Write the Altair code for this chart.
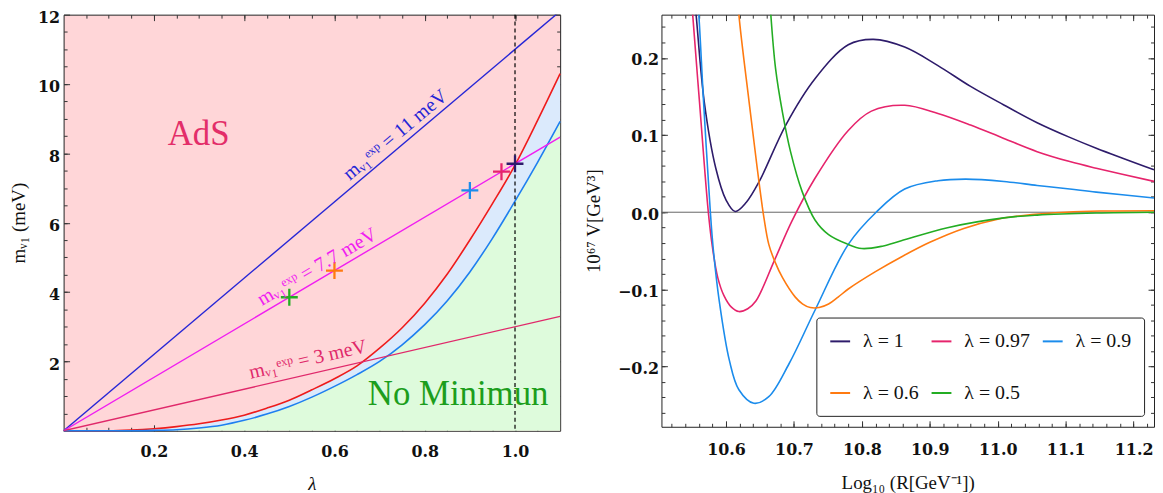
import altair as alt
import pandas as pd

# ---------------- left panel: m_nu1 (meV) versus lambda ----------------
lam = [0.0, 0.1, 0.15, 0.2, 0.25, 0.3, 0.35, 0.4, 0.45, 0.5, 0.55, 0.6, 0.65,
       0.7, 0.75, 0.8, 0.85, 0.9, 0.95, 1.0, 1.05, 1.1]
m_ads_edge = [0.0, 0.0, 0.02, 0.06, 0.12, 0.2, 0.31, 0.45, 0.65, 0.88, 1.18, 1.5,
              1.87, 2.38, 2.97, 3.68, 4.52, 5.5, 6.55, 7.66, 8.95, 10.3]
m_nomin_edge = [0.0, 0.0, 0.0, 0.01, 0.03, 0.08, 0.16, 0.3, 0.48, 0.7, 0.97, 1.28,
                1.62, 2.0, 2.48, 3.06, 3.75, 4.58, 5.55, 6.62, 7.74, 8.92]

line_lam = [0.0, 1.1]
m_line_11 = [0.0, 12.1]
m_line_77 = [0.0, 8.47]
m_line_3 = [0.0, 3.3]

dash_lam = [1.0]

mark_lam = [0.5, 0.6, 0.9, 0.97, 1.0]
mark_m = [3.85, 4.62, 6.93, 7.47, 7.7]

region_text = ["AdS", "No Minimun"]
region_lam = [0.299, 0.874]
region_m = [8.23, 0.74]

exp_text = ["mᵥ₁ᵉˣᵖ = 11 meV", "mᵥ₁ᵉˣᵖ = 7.7 meV", "mᵥ₁ᵉˣᵖ = 3 meV"]
exp_lam = [0.752, 0.575, 0.547]
exp_m = [8.27, 4.43, 1.72]
exp_angle = [320, 329.6, 347.1]

left_x_major = [0.2, 0.4, 0.6, 0.8, 1.0]
left_x_minor = [round(0.05 * i, 2) for i in range(1, 22)]
left_y_major = [2, 4, 6, 8, 10, 12]
left_y_minor = [0.5 * i for i in range(1, 24)]

# ---------------- right panel: potential versus log10 R ----------------
series = ["λ = 1", "λ = 0.97", "λ = 0.9", "λ = 0.6", "λ = 0.5"]

logR_1 = [10.551, 10.556, 10.568, 10.585, 10.600, 10.6135, 10.630, 10.649, 10.688,
          10.731, 10.780, 10.817, 10.863, 10.912, 10.960, 11.009, 11.058, 11.106,
          11.145, 11.23]
V_1 = [0.30, 0.256, 0.143, 0.057, 0.016, 0.001, 0.013, 0.040, 0.113, 0.173, 0.217,
       0.224, 0.214, 0.190, 0.163, 0.139, 0.116, 0.097, 0.083, 0.055]

logR_097 = [10.548, 10.551, 10.561, 10.574, 10.580, 10.588, 10.597, 10.608, 10.619,
            10.632, 10.644, 10.671, 10.697, 10.731, 10.780, 10.814, 10.863, 10.912,
            10.960, 11.009, 11.058, 11.106, 11.145, 11.23]
V_097 = [0.30, 0.256, 0.143, 0.0, -0.045, -0.085, -0.108, -0.123, -0.1287, -0.125,
         -0.115, -0.063, -0.0116, 0.044, 0.106, 0.131, 0.1386, 0.128, 0.113, 0.0956,
         0.0785, 0.0656, 0.057, 0.040]

logR_09 = [10.556, 10.560, 10.567, 10.577, 10.581, 10.590, 10.605, 10.619, 10.641,
           10.663, 10.693, 10.731, 10.780, 10.821, 10.863, 10.912, 10.953, 11.009,
           11.058, 11.106, 11.145, 11.23]
V_09 = [0.30, 0.256, 0.143, 0.0, -0.045, -0.1145, -0.192, -0.230, -0.2475, -0.239,
        -0.196, -0.127, -0.0416, 0.0, 0.030, 0.0408, 0.0429, 0.0399, 0.0347, 0.030,
        0.026, 0.0185]

logR_06 = [10.616, 10.619, 10.634, 10.646, 10.656, 10.663, 10.672, 10.683, 10.702,
           10.713, 10.724, 10.737, 10.751, 10.765, 10.780, 10.82, 10.86, 10.90, 10.95,
           11.0, 11.05, 11.1, 11.15, 11.23]
V_06 = [0.30, 0.256, 0.143, 0.057, -0.008, -0.0416, -0.064, -0.0845, -0.110, -0.119,
        -0.1235, -0.1235, -0.119, -0.110, -0.0995, -0.077, -0.057, -0.039, -0.021,
        -0.009, -0.003, 0.0, 0.0015, 0.002]

logR_05 = [10.663, 10.666, 10.673, 10.683, 10.695, 10.712, 10.731, 10.751, 10.778,
           10.80, 10.83, 10.858, 10.926, 11.009, 11.058, 11.145, 11.23]
V_05 = [0.30, 0.256, 0.186, 0.130, 0.0785, 0.027, -0.010, -0.029, -0.041, -0.047,
        -0.044, -0.037, -0.020, -0.0073, -0.0037, -0.001, 0.0]

zero_level = [0.0]

right_x_major = [10.6, 10.7, 10.8, 10.9, 11.0, 11.1, 11.2]
right_x_minor = [round(10.52 + 0.02 * i, 2) for i in range(0, 36)]
right_y_major = [-0.2, -0.1, 0.0, 0.1, 0.2]
right_y_minor = [round(-0.26 + 0.02 * i, 2) for i in range(0, 26)]

# ---------------- style ----------------
series_colors = ["#2e1c6b", "#e6246c", "#1b8cec", "#ff7a10", "#23ad23"]
marker_colors = ["#23ad23", "#ff7a10", "#1b8cec", "#e6246c", "#2e1c6b"]
pink_bg = "#ffd6d8"
blue_fill = "#dbeafc"
green_fill = "#defbdc"
FRAME = "#222222"
TICK = "#333333"
CROSS = "M -1 0 L 1 0 M 0 -1 L 0 1"

LAB = dict(labelFont="DejaVu Serif", labelFontWeight="bold", labelFontSize=16,
           labelColor="#111111", labelFlush=False, labelOverlap=False)
TIT = dict(titleFont="Liberation Serif", titleFontSize=19, titleFontWeight="normal",
           titleColor="#111111")


def frame_axes(df, xf, yf, xs, ys, xmaj, xmin_, ymaj, ymin_, xfmt, yfmt,
               xtitle, ytitle, xlp, ylp, xtp, ytp, ylo, xtitle_italic=False):
    base = alt.Chart(df).mark_point(opacity=0, clip=True)
    xt_extra = dict(titleFontStyle="italic") if xtitle_italic else {}
    out = []
    out.append(base.encode(
        x=alt.X(f"{xf}:Q", scale=xs, axis=alt.Axis(
            orient="bottom", values=xmaj, format=xfmt, tickSize=6, offset=-6,
            domain=False, grid=False, tickColor=TICK, labelPadding=xlp,
            title=xtitle, titlePadding=xtp, **LAB, **TIT, **xt_extra)),
        y=alt.Y(f"{yf}:Q", scale=ys, axis=alt.Axis(
            orient="left", values=ymaj, format=yfmt, tickSize=6, offset=-6,
            domain=False, grid=False, tickColor=TICK, labelPadding=ylp,
            labelOffset=ylo, title=ytitle, titlePadding=ytp, **LAB, **TIT))))
    for orient_x, orient_y, vals_x, vals_y, size in [
            ("bottom", "left", xmin_, ymin_, 3.5),
            ("top", "right", xmaj, ymaj, 6),
            ("top", "right", xmin_, ymin_, 3.5)]:
        out.append(base.encode(
            x=alt.X(f"{xf}:Q", scale=xs, axis=alt.Axis(
                orient=orient_x, values=vals_x, tickSize=size, offset=-size,
                domain=False, grid=False, labels=False, tickColor=TICK, title=None)),
            y=alt.Y(f"{yf}:Q", scale=ys, axis=alt.Axis(
                orient=orient_y, values=vals_y, tickSize=size, offset=-size,
                domain=False, grid=False, labels=False, tickColor=TICK, title=None))))
    return out


# ---------------- left panel ----------------
xsL = alt.Scale(domain=[0, 1.1], nice=False, zero=False)
ysL = alt.Scale(domain=[0, 12], nice=False, zero=False)

df_b = pd.DataFrame({"lam": lam, "ads": m_ads_edge, "nomin": m_nomin_edge})
df_lines = pd.DataFrame({"lam": line_lam, "l11": m_line_11, "l77": m_line_77,
                         "l3": m_line_3})
df_dash = pd.DataFrame({"lam": dash_lam})
df_marks = pd.DataFrame({"lam": mark_lam, "m": mark_m, "col": marker_colors})
df_region = pd.DataFrame({"lam": region_lam, "m": region_m, "t": region_text,
                          "col": ["#e32e69", "#1c9e1c"]})
df_exp = pd.DataFrame({"lam": exp_lam, "m": exp_m, "t": exp_text, "ang": exp_angle,
                       "col": ["#2626d6", "#f01ef0", "#e0286a"]})

XL = lambda f: alt.X(f"{f}:Q", scale=xsL, axis=None)
YL = lambda f: alt.Y(f"{f}:Q", scale=ysL, axis=None)

green_area = alt.Chart(df_b).mark_area(color=green_fill, interpolate="monotone").encode(
    x=XL("lam"), y=YL("nomin"), y2=alt.datum(0))
blue_area = alt.Chart(df_b).mark_area(color=blue_fill, interpolate="monotone").encode(
    x=XL("lam"), y=YL("ads"), y2="nomin:Q")
red_curve = alt.Chart(df_b).mark_line(color="#ee1b1b", strokeWidth=1.6,
                                      interpolate="monotone").encode(x=XL("lam"), y=YL("ads"))
blue_curve = alt.Chart(df_b).mark_line(color="#1e7ff0", strokeWidth=1.6,
                                       interpolate="monotone").encode(x=XL("lam"), y=YL("nomin"))
l11 = alt.Chart(df_lines).mark_line(color="#2626d6", strokeWidth=1.4, clip=True).encode(
    x=XL("lam"), y=YL("l11"))
l77 = alt.Chart(df_lines).mark_line(color="#f01ef0", strokeWidth=1.4, clip=True).encode(
    x=XL("lam"), y=YL("l77"))
l3 = alt.Chart(df_lines).mark_line(color="#e0286a", strokeWidth=1.4, clip=True).encode(
    x=XL("lam"), y=YL("l3"))
dash = alt.Chart(df_dash).mark_rule(color="black", strokeDash=[4, 3], strokeWidth=1.2).encode(
    x=XL("lam"))
crosses = alt.Chart(df_marks).mark_point(shape=CROSS, size=290, filled=False, strokeWidth=2.3,
                                         opacity=1).encode(
    x=XL("lam"), y=YL("m"), color=alt.Color("col:N", scale=None))
regions = alt.Chart(df_region).mark_text(font="Liberation Serif", fontSize=35,
                                         baseline="alphabetic", align="center").encode(
    x=XL("lam"), y=YL("m"), text="t:N", color=alt.Color("col:N", scale=None))
exp_labels = alt.Chart(df_exp).mark_text(font="Liberation Serif", fontSize=20,
                                         baseline="middle", align="center", dy=-12).encode(
    x=XL("lam"), y=YL("m"), text="t:N", angle=alt.Angle("ang:Q", scale=None),
    color=alt.Color("col:N", scale=None))

left = alt.layer(
    green_area, blue_area, red_curve, blue_curve, l11, l77, l3, dash, crosses, regions,
    exp_labels,
    *frame_axes(df_marks, "lam", "m", xsL, ysL, left_x_major, left_x_minor,
                left_y_major, left_y_minor, ".1f", "d", "λ", "mᵥ₁ (meV)",
                13, 4, 15, 9, 3, xtitle_italic=True)
).resolve_axis(x="independent", y="independent").properties(
    width=500, height=419,
    view=alt.ViewBackground(fill=pink_bg, stroke=FRAME, strokeWidth=1))

# ---------------- right panel ----------------
xsR = alt.Scale(domain=[10.505, 11.23], nice=False, zero=False)
ysR = alt.Scale(domain=[-0.278, 0.256], nice=False, zero=False)

frames = []
for name, rx, vy in zip(series, [logR_1, logR_097, logR_09, logR_06, logR_05],
                        [V_1, V_097, V_09, V_06, V_05]):
    frames.append(pd.DataFrame({"R": rx, "V": vy, "s": name}))
df_R = pd.concat(frames, ignore_index=True)
df_zero = pd.DataFrame({"V": zero_level})

zero_rule = alt.Chart(df_zero).mark_rule(color="#666666", strokeWidth=1).encode(
    y=alt.Y("V:Q", scale=ysR, axis=None))
curves = alt.Chart(df_R).mark_line(strokeWidth=1.6, interpolate="catmull-rom",
                                   clip=True).encode(
    x=alt.X("R:Q", scale=xsR, axis=None),
    y=alt.Y("V:Q", scale=ysR, axis=None),
    color=alt.Color("s:N", scale=alt.Scale(domain=series, range=series_colors),
                    legend=alt.Legend(
                        orient="none", legendX=758, legendY=305, columns=3,
                        direction="horizontal", title=None, symbolType="stroke",
                        symbolSize=400, symbolStrokeWidth=2, labelFont="Liberation Serif",
                        labelFontSize=20, labelColor="#111111", labelOffset=12,
                        columnPadding=9, rowPadding=31, padding=13, gridAlign="none",
                        fillColor="white", strokeColor=FRAME, cornerRadius=3)))

right = alt.layer(
    zero_rule, curves,
    *frame_axes(df_R, "R", "V", xsR, ysR, right_x_major, right_x_minor,
                right_y_major, right_y_minor, ".1f", ".1f", "Log₁₀ (R[GeV⁻¹])",
                "10⁶⁷ V[GeV³]", 15, 3, 16, 14, 2)
).resolve_axis(x="independent", y="independent").properties(
    width=496, height=415,
    view=alt.ViewBackground(fill="white", stroke=FRAME, strokeWidth=1))

chart = alt.hconcat(left, right, spacing=20).properties(
    padding={"left": 1, "top": -1, "right": 0, "bottom": 0},
    background="white")

chart.save("out.html", embed_options={"renderer": "svg", "actions": False})
